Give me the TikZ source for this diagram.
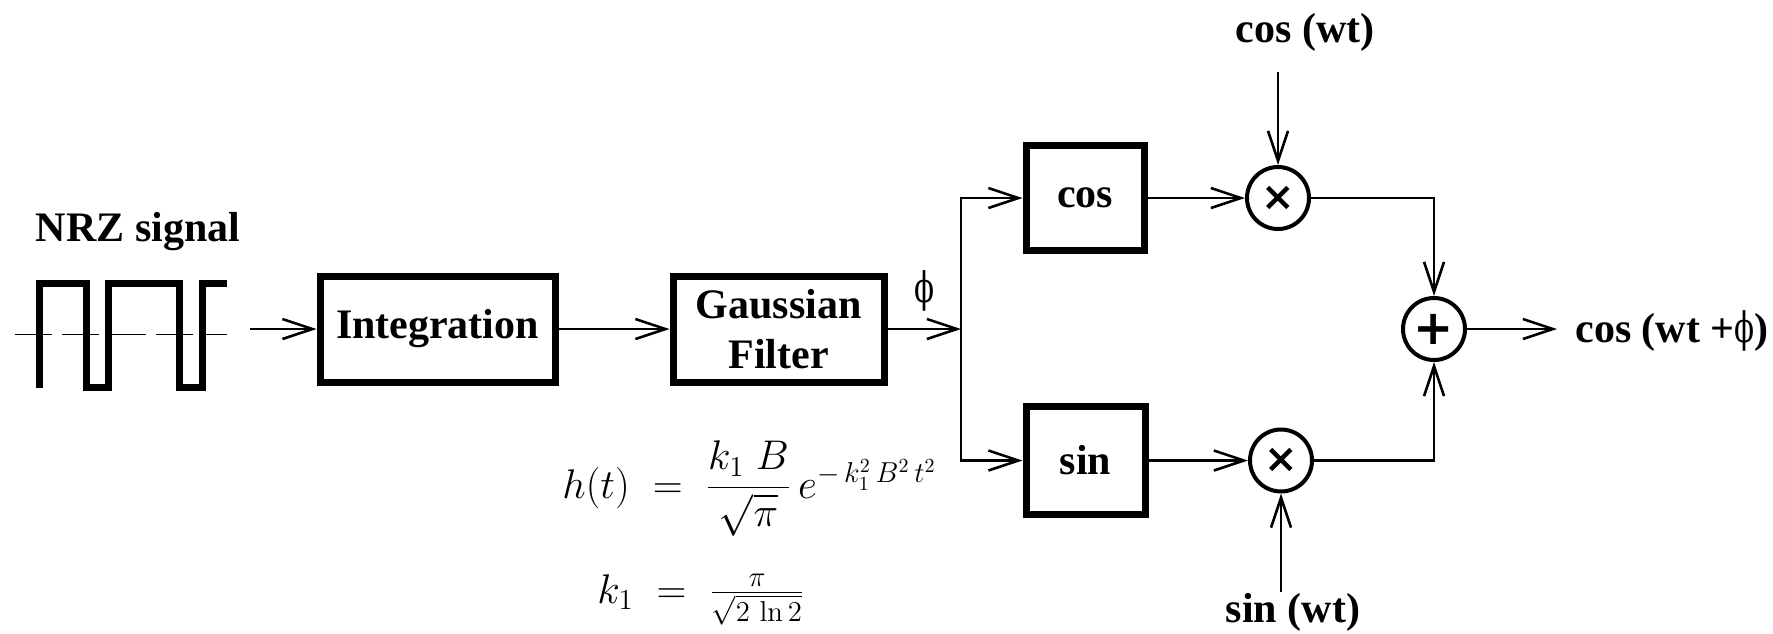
\documentclass[tikz,border=0pt]{standalone}
\usepackage{amsmath}
\usepackage[no-math]{fontspec}
\setmainfont{Liberation Serif}
\newfontfamily\phifont{DejaVu Serif}
\newfontfamily\opfont{DejaVu Sans}
\usetikzlibrary{arrows.meta}
\newcommand{\phisym}{\scalebox{0.7}[1]{\phifont\mdseries ϕ}}

\begin{document}
\begin{tikzpicture}[x=0.5pt,y=-0.5pt,font=\fontsize{21}{25}\selectfont\bfseries]
    \useasboundingbox (0,0) rectangle (1773,633);
    \tikzstyle{bloc}=[draw,line width=3.5pt,minimum height=53pt,inner sep=0pt]
    \tikzstyle{oper}=[draw,circle,line width=2pt,minimum size=31pt,inner sep=0pt]
    \tikzstyle{fleche}=[line width=1.3pt,-{Straight Barb[length=15pt,width=10pt]}]
    \tikzstyle{lbl}=[inner sep=0pt]
    \tikzstyle{formule}=[inner sep=0pt,anchor=base west,font=\fontsize{20}{24}\selectfont]

    %%%%%%%%%%%%%%%%%%%%%%%%%%%%%%%%%%%%%% Signal NRZ
    \node[lbl] (nrz) at (138,232) {NRZ signal};
    \draw[line width=0.5pt,dash pattern=on 18.5pt off 5pt] (15,334) -- (227,334);
    \draw[line width=3.5pt] (39,388)--(39,283.5)--(86,283.5)--(86,387)--(108.5,387)--(108.5,283.5)
        --(179.5,283.5)--(179.5,387)--(202,387)--(202,283.5)--(227,283.5);

    %%%%%%%%%%%%%%%%%%%%%%%%%%%%%%%%%%%%%% Blocs
    \node[bloc,minimum width=117.5pt] (integ) at (437.5,329) {Integration};
    \node[bloc,minimum width=105.5pt,align=center] (gauss) at (778.5,329) {Gaussian\\Filter};
    \node[bloc,minimum width=59pt,minimum height=52.5pt] (cosb) at (1085,198) {cos};
    \node[bloc,minimum width=59.5pt,minimum height=54pt] (sinb) at (1085.5,460.5) {sin};

    %%%%%%%%%%%%%%%%%%%%%%%%%%%%%%%%%%%%%% Operateurs
    \node[oper,font=\opfont\fontsize{20}{20}\selectfont\bfseries] (mulc) at (1278,198) {×};
    \node[oper,font=\opfont\fontsize{20}{20}\selectfont\bfseries] (muls) at (1281,460.5) {×};
    \node[oper,font=\opfont\fontsize{24}{24}\selectfont\bfseries] (som) at (1434,329) {+};

    %%%%%%%%%%%%%%%%%%%%%%%%%%%%%%%%%%%%%% Textes
    \node[lbl] (coswt) at (1305,32) {cos (wt)};
    \node[lbl] (sinwt) at (1293,612) {sin (wt)};
    \node[lbl,anchor=base west] (sortie) at (1575,342) {cos (wt +\phisym)};
    \node[formule] (hdet) at (562,498) {$h(t) \;=\; \dfrac{k_1\;B}{\sqrt{\pi}}\,e^{-\,k_1^2\,B^2\,t^2}$};
    \node[formule] (kdet) at (597,603) {$k_1 \;=\; \frac{\pi}{\sqrt{2\,\ln 2}}$};

    %%%%%%%%%%%%%%%%%%%%%%%%%%%%%%%%%%%%%% Liaisons
    \coordinate (depart) at (250,329);
    \coordinate (jonc) at (961,329);
    \coordinate (fin) at (1557,329);
    \coordinate (cosin) at (1278,72);
    \coordinate (sinin) at (1281,592);

    \draw[fleche] (depart) -- (integ);
    \draw[fleche] (integ) -- (gauss);
    \draw[fleche] (gauss) -- (jonc) node[lbl,midway,above=8pt] (phi) {\phisym};
    \draw[fleche] (jonc) |- (cosb);
    \draw[fleche] (jonc) |- (sinb);
    \draw[fleche] (cosb) -- (mulc);
    \draw[fleche] (sinb) -- (muls);
    \draw[fleche] (cosin) -- (mulc);
    \draw[fleche] (sinin) -- (muls);
    \draw[fleche] (mulc) -| (som);
    \draw[fleche] (muls) -| (som);
    \draw[fleche] (som) -- (fin);
\end{tikzpicture}
\end{document}
